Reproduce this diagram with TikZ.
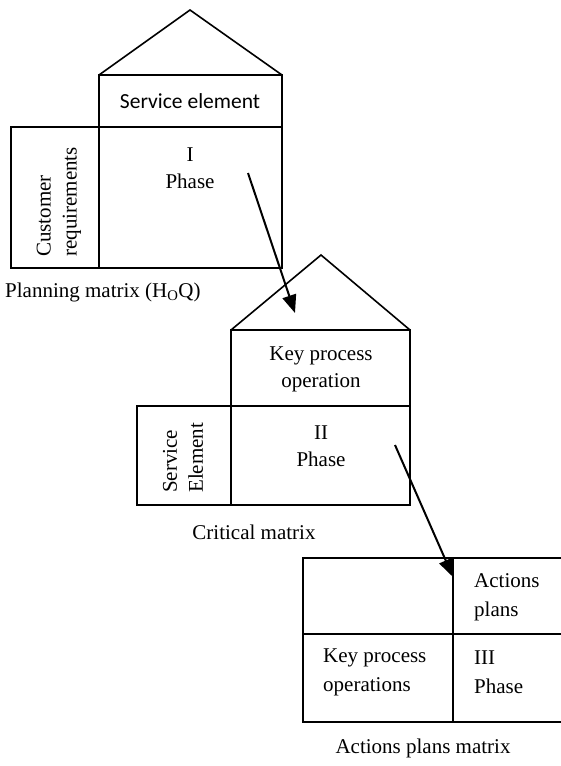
\documentclass[tikz,border=0pt]{standalone}
\usepackage{fontspec}
\setmainfont{Liberation Serif}
\newfontfamily\calfont{Carlito}
\usetikzlibrary{arrows.meta}
\begin{document}
\begin{tikzpicture}[x=1pt,y=-1pt,
  box/.style={line width=1.6pt},
  lbl/.style={font=\fontsize{21}{27}\selectfont, inner sep=0pt, align=center},
  rlbl/.style={font=\fontsize{21}{26}\selectfont, inner sep=0pt, align=left, rotate=90, anchor=west},
  llbl/.style={font=\fontsize{21}{29}\selectfont, inner sep=0pt, align=left, anchor=west},
  arr/.style={line width=2pt, -{Triangle[length=18pt,width=14pt]}}]
\useasboundingbox (0,0) rectangle (561,766);
% House 1
\draw[box] (99,75) -- (190,10) -- (282,75);
\draw[box] (99,75) rectangle (282,127);
\draw[box] (11,127) rectangle (282,268);
\draw[box] (99,127) -- (99,268);
\node[lbl, font=\calfont\fontsize{21.5}{26}\selectfont] (se1) at (190,101) {Service element};
\node[lbl] (ph1) at (190,168) {I\\Phase};
\node[rlbl] (cr) at (59,257) {Customer\\requirements};
\node[llbl] (pm) at (5,292) {Planning matrix (H\textsubscript{O}Q)};
% House 2
\draw[box] (231,330) -- (321,255) -- (410,330);
\draw[box] (231,330) rectangle (410,406);
\draw[box] (137,406) rectangle (410,505);
\draw[box] (231,406) -- (231,505);
\node[lbl] (kpo) at (321,369) {Key process\\operation};
\node[lbl] (ph2) at (321,446) {II\\Phase};
\node[rlbl] (sel) at (183,493) {Service\\Element};
\node[lbl] (cm) at (254,532) {Critical matrix};
% Matrix 3
\draw[box] (561,558) -- (303,558) -- (303,722) -- (561,722);
\draw[box] (303,634) -- (561,634);
\draw[box] (453,558) -- (453,722);
\node[llbl] (ap) at (474,597) {Actions\\plans};
\node[llbl] (kpos) at (323,672) {Key process\\operations};
\node[llbl] (ph3) at (474,672) {III\\Phase};
\node[lbl] (apm) at (423,748) {Actions plans matrix};
% Arrows
\coordinate (a1s) at (248,173);
\coordinate (a1e) at (295,313);
\coordinate (a2s) at (395,445);
\coordinate (a2e) at (453,577);
\draw[arr] (a1s) -- (a1e);
\draw[arr] (a2s) -- (a2e);
\end{tikzpicture}
\end{document}
